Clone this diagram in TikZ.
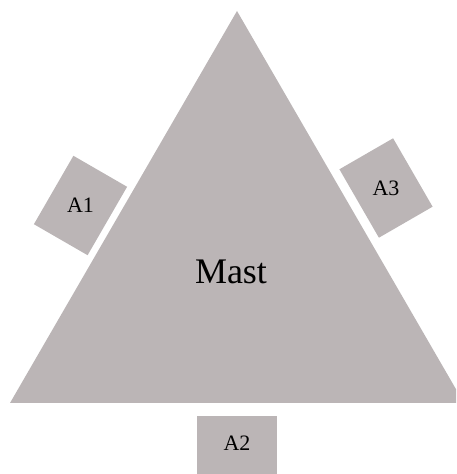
\documentclass[tikz,border=0pt]{standalone}
\usepackage{fontspec}
\setmainfont{Liberation Serif}
\usetikzlibrary{positioning}
\definecolor{mastgray}{RGB}{187,181,182}

\begin{document}
\begin{tikzpicture}[x=1pt, y=1pt,
  antenna/.style={fill=mastgray, inner sep=0pt,
    minimum width=62pt, minimum height=79pt},
  antlabel/.style={font=\fontsize{22}{26}\selectfont}]
\clip (0,0) rectangle (456,474);
% mast cross-section
\fill[mastgray] (10,71) -- (237,463) -- (464,71) -- cycle;
\node[font=\fontsize{36}{42}\selectfont] (mast) at (231,202) {Mast};
% antennas round the mast
\node[antenna, rotate=-30] (A1box) at (80.5,268.5) {};
\node[antlabel] (A1) at (A1box) {A1};
\node[antenna, rotate=30] (A3box) at (386,286) {};
\node[antenna, minimum width=80pt, minimum height=62pt] (A2box) at (237,27) {};
\node[antlabel] (A3) at (A3box) {A3};
\node[antlabel] (A2) at ([yshift=4pt]A2box) {A2};
\end{tikzpicture}
\end{document}
